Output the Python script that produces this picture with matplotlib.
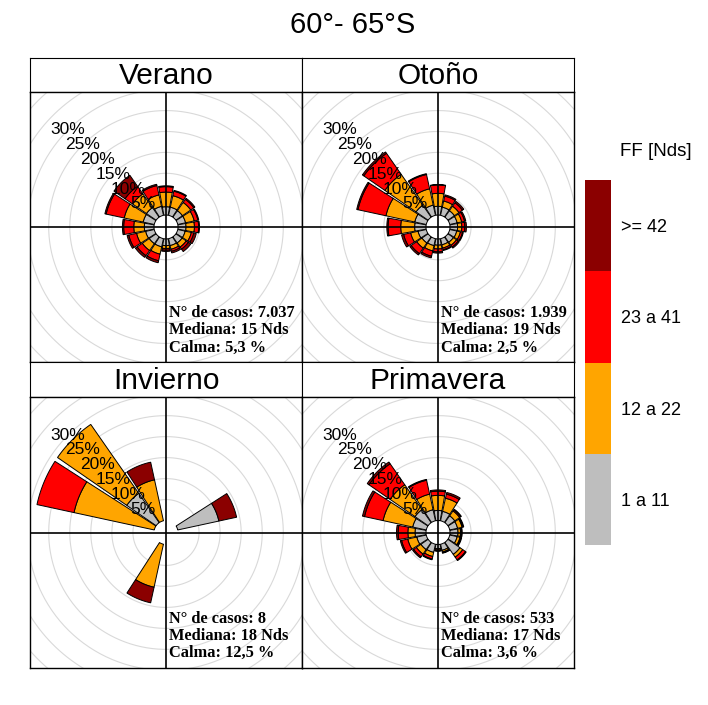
import numpy as np
import matplotlib
matplotlib.use('Agg')
from matplotlib import pyplot as plt
from matplotlib.patches import Polygon
from matplotlib.colors import ListedColormap, BoundaryNorm
from matplotlib.cm import ScalarMappable

plt.rcParams['font.family'] = ['Liberation Sans', 'DejaVu Sans']

# 16 sectors, clockwise from north (N, NNE, ..., NNW)
directions = np.arange(16) * 22.5

# frequency (%) of each speed class per sector
verano_1_11 = [2.0, 2.0, 1.9, 1.9, 1.9, 1.8, 1.8, 1.7, 1.6, 2.0, 2.0, 2.1, 2.3, 2.7, 2.8, 2.2]
verano_12_22 = [3.5, 2.8, 2.4, 2.1, 2.0, 1.5, 1.2, 0.9, 0.7, 1.8, 2.0, 2.2, 2.5, 4.6, 4.0, 2.8]
verano_23_41 = [1.3, 1.1, 0.9, 0.9, 1.0, 0.6, 0.6, 0.5, 0.4, 1.6, 1.5, 1.9, 2.4, 4.4, 2.2, 2.3]
verano_42 = [0.2, 0.2, 0.3, 0.2, 0.2, 0.6, 0.7, 0.4, 0.3, 0.5, 0.5, 0.4, 0.3, 0.3, 3.2, 0.3]

otono_1_11 = [2.1, 2.0, 1.9, 1.8, 1.8, 1.7, 1.6, 1.5, 1.5, 1.7, 1.8, 2.0, 2.7, 2.8, 3.5, 2.5]
otono_12_22 = [3.1, 1.5, 1.3, 1.1, 1.0, 0.9, 0.9, 0.8, 0.9, 1.3, 1.5, 1.8, 3.3, 7.0, 9.0, 4.0]
otono_23_41 = [2.0, 1.2, 1.0, 0.7, 0.7, 0.5, 0.5, 0.4, 0.7, 1.3, 1.6, 1.7, 3.0, 6.8, 6.1, 3.5]
otono_42 = [0.1, 0.3, 0.4, 0.3, 0.4, 0.2, 0.3, 0.2, 0.3, 0.4, 0.4, 0.5, 0.3, 0.3, 0.4, 0.2]

invierno_1_11 = [0, 0, 0, 10.0, 0, 0, 0, 0, 0, 0, 0, 0, 0, 0, 8.5, 0]
invierno_12_22 = [0, 0, 0, 0, 0, 0, 0, 0, 0, 10.5, 0, 0, 0, 19.5, 20.0, 10.0]
invierno_23_41 = [0, 0, 0, 0, 0, 0, 0, 0, 0, 0, 0, 0, 0, 9.0, 0, 0]
invierno_42 = [0, 0, 0, 4.3, 0, 0, 0, 0, 0, 3.8, 0, 0, 0, 0, 0, 4.3]

primavera_1_11 = [2.4, 2.3, 2.0, 1.9, 1.9, 1.8, 3.5, 1.5, 1.0, 2.0, 2.1, 2.3, 2.6, 3.3, 3.8, 2.7]
primavera_12_22 = [3.6, 3.2, 1.4, 1.1, 0.6, 0.7, 0.8, 0.4, 0.3, 1.0, 1.3, 2.2, 1.7, 7.2, 7.2, 3.8]
primavera_23_41 = [1.0, 1.0, 0.3, 0.2, 0.2, 0.2, 0.8, 0.2, 0.2, 0.6, 0.8, 1.5, 2.3, 4.5, 6.1, 3.4]
primavera_42 = [0.3, 0.4, 0.2, 0.2, 0.2, 0.2, 0.2, 0.1, 0.1, 0.2, 0.3, 0.3, 0.4, 0.5, 0.5, 0.2]

seasons = ['Verano', 'Otoño', 'Invierno', 'Primavera']
season_data = [
    [verano_1_11, verano_12_22, verano_23_41, verano_42],
    [otono_1_11, otono_12_22, otono_23_41, otono_42],
    [invierno_1_11, invierno_12_22, invierno_23_41, invierno_42],
    [primavera_1_11, primavera_12_22, primavera_23_41, primavera_42],
]
n_casos = ['7.037', '1.939', '8', '533']
mediana = ['15', '19', '18', '17']
calma = ['5,3', '2,5', '12,5', '3,6']

speed_labels = ['1 a 11', '12 a 22', '23 a 41', '>= 42']
colours = ['#BEBEBE', '#FFA500', '#FF0000', '#8B0000']

# openair style geometry
max_freq = max(np.sum(d, axis=0).max() for d in season_data)
off_set = max_freq * 0.1
lim = 1.03 * (max_freq + off_set)
grid_step = 5
sector = 22.5

W, H = 708, 705
fig = plt.figure(figsize=(W / 100, H / 100), dpi=100)


def box(x0, y0, x1, y1):
    return [x0 / W, 1 - y1 / H, (x1 - x0) / W, (y1 - y0) / H]


def wedge(ax, wd, r1, r2, colour):
    theta = np.radians(np.linspace(wd - sector / 2 + 1, wd + sector / 2 - 1, 60))
    ra, rb = r1 + off_set, r2 + off_set
    xs = np.concatenate([ra * np.sin(theta), rb * np.sin(theta[::-1])])
    ys = np.concatenate([ra * np.cos(theta), rb * np.cos(theta[::-1])])
    ax.add_patch(Polygon(np.column_stack([xs, ys]), closed=True, facecolor=colour,
                         edgecolor='black', linewidth=0.7, zorder=3))


cols = [(30, 302), (302, 574)]
strips = [(58, 92), (362, 397)]
plots = [(92, 362), (397, 668)]

circle_t = np.linspace(0, 2 * np.pi, 400)

for i, name in enumerate(seasons):
    row, col = divmod(i, 2)
    x0, x1 = cols[col]

    sax = fig.add_axes(box(x0, strips[row][0], x1, strips[row][1]))
    sax.set_xticks([])
    sax.set_yticks([])
    sax.text(0.5, 0.47, name, ha='center', va='center', fontsize=21.5, transform=sax.transAxes)

    ax = fig.add_axes(box(x0, plots[row][0], x1, plots[row][1]))
    ax.set_xlim(-lim, lim)
    ax.set_ylim(-lim, lim)
    ax.set_xticks([])
    ax.set_yticks([])
    for sp in ax.spines.values():
        sp.set_linewidth(1)

    # grid circles
    for g in np.arange(grid_step, 2 * max_freq, grid_step):
        ax.plot((g + off_set) * np.sin(circle_t), (g + off_set) * np.cos(circle_t),
                color='#D9D9D9', lw=0.8, zorder=1)

    # stacked wedges
    cum = np.cumsum(np.array(season_data[i]), axis=0)
    lower = np.vstack([np.zeros(16), cum[:-1]])
    for k in range(4):
        for j, wd in enumerate(directions):
            if cum[k, j] - lower[k, j] > 0:
                wedge(ax, wd, lower[k, j], cum[k, j], colours[k])

    ax.axhline(0, color='black', lw=1.2, zorder=4)
    ax.axvline(0, color='black', lw=1.2, zorder=4)

    # ring labels along 315 degrees
    ang = np.radians(315)
    for g in np.arange(grid_step, 31, grid_step):
        ax.text((g + off_set) * np.sin(ang), (g + off_set) * np.cos(ang), f'{g}%',
                ha='center', va='center', fontsize=12.5, zorder=5)

    info = [f'N° de casos: {n_casos[i]}', f'Mediana: {mediana[i]} Nds', f'Calma: {calma[i]} %']
    for t, txt in enumerate(info):
        ax.text(0.512, 0.18 - t * 0.063, txt, transform=ax.transAxes, ha='left', va='center',
                fontsize=11.8, fontweight='bold', family=['Liberation Serif', 'DejaVu Serif'],
                zorder=6)

fig.text(353 / W, 1 - 25 / H, '60°- 65°S', ha='center', va='center', fontsize=21)

# speed legend
cax = fig.add_axes(box(585, 180, 611, 545))
cmap = ListedColormap(colours)
norm = BoundaryNorm(np.arange(5), cmap.N)
cb = fig.colorbar(ScalarMappable(norm=norm, cmap=cmap), cax=cax)
cb.set_ticks(np.arange(4) + 0.5)
cb.set_ticklabels(speed_labels)
cb.outline.set_visible(False)
cax.minorticks_off()
cax.tick_params(which='both', length=0, pad=7, labelsize=13)
fig.text(620 / W, 1 - 152 / H, 'FF [Nds]', ha='left', va='center', fontsize=13.5)

fig.savefig('out.png', dpi=100)
